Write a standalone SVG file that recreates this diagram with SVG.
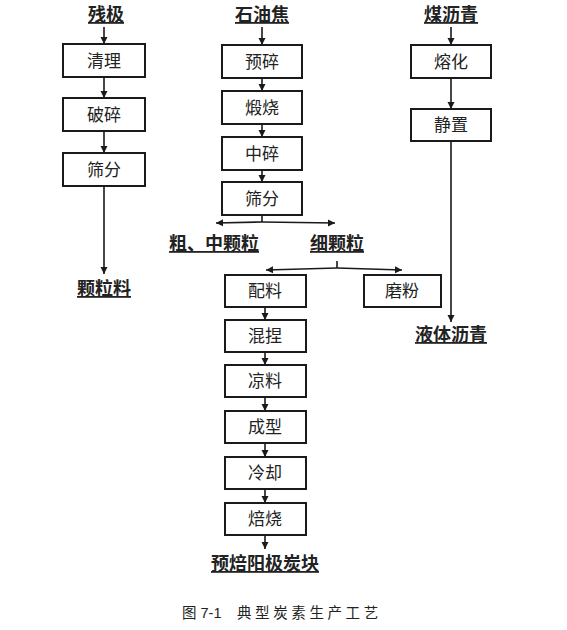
<svg xmlns="http://www.w3.org/2000/svg" width="567" height="630" viewBox="0 0 567 630">
<style>
.box{fill:#fff;stroke:#1a1a1a;stroke-width:2}
.bt{font-family:"Noto Sans CJK SC","Noto Sans",sans-serif;font-size:17px;fill:#222;text-anchor:middle}
.lb{font-family:"Noto Sans CJK SC","Noto Sans",sans-serif;font-size:18px;font-weight:bold;fill:#222;text-anchor:middle;text-decoration:underline}
.cn{stroke:#1a1a1a;stroke-width:1.6;fill:none}
.cap{font-family:"Liberation Sans","Noto Sans CJK SC",sans-serif;font-size:14.5px;fill:#222}
</style>
<defs>
<marker id="ar" markerUnits="userSpaceOnUse" markerWidth="8" markerHeight="8" refX="7" refY="4" orient="auto">
<path d="M0,0.5 L7,4 L0,7.5 z" fill="#1a1a1a"/>
</marker>
</defs>
<rect width="567" height="630" fill="#fff"/>

<g id="connectors">
<line class="cn" x1="104" y1="27" x2="104" y2="44" marker-end="url(#ar)"/>
<line class="cn" x1="104" y1="77" x2="104" y2="98" marker-end="url(#ar)"/>
<line class="cn" x1="104" y1="131" x2="104" y2="153" marker-end="url(#ar)"/>
<line class="cn" x1="104" y1="186" x2="104" y2="274" marker-end="url(#ar)"/>

<line class="cn" x1="262" y1="27" x2="262" y2="45" marker-end="url(#ar)"/>
<line class="cn" x1="262" y1="78" x2="262" y2="91" marker-end="url(#ar)"/>
<line class="cn" x1="262" y1="124" x2="262" y2="137" marker-end="url(#ar)"/>
<line class="cn" x1="262" y1="170" x2="262" y2="182" marker-end="url(#ar)"/>
<line class="cn" x1="262" y1="215" x2="262" y2="222"/>
<line class="cn" x1="262" y1="222" x2="216" y2="223" marker-end="url(#ar)"/>
<line class="cn" x1="262" y1="222" x2="335" y2="223" marker-end="url(#ar)"/>

<line class="cn" x1="337" y1="261" x2="337" y2="268"/>
<line class="cn" x1="337" y1="268" x2="266" y2="270" marker-end="url(#ar)"/>
<line class="cn" x1="337" y1="268" x2="402" y2="270" marker-end="url(#ar)"/>

<line class="cn" x1="265" y1="307" x2="265" y2="320" marker-end="url(#ar)"/>
<line class="cn" x1="265" y1="352" x2="265" y2="365" marker-end="url(#ar)"/>
<line class="cn" x1="265" y1="397" x2="265" y2="411" marker-end="url(#ar)"/>
<line class="cn" x1="265" y1="443" x2="265" y2="457" marker-end="url(#ar)"/>
<line class="cn" x1="265" y1="489" x2="265" y2="503" marker-end="url(#ar)"/>
<line class="cn" x1="265" y1="535" x2="265" y2="549" marker-end="url(#ar)"/>

<line class="cn" x1="451" y1="27" x2="451" y2="45" marker-end="url(#ar)"/>
<line class="cn" x1="451" y1="78" x2="451" y2="109" marker-end="url(#ar)"/>
<line class="cn" x1="451" y1="141" x2="451" y2="322" marker-end="url(#ar)"/>
</g>

<g id="t-canji"><text class="lb" x="106" y="21">残极</text></g>
<g id="t-shiyoujiao"><text class="lb" x="262" y="21">石油焦</text></g>
<g id="t-meiliqing"><text class="lb" x="451" y="21">煤沥青</text></g>

<g id="n-qingli"><rect class="box" x="63" y="44" width="82" height="33"/><text class="bt" x="104" y="66.5">清理</text></g>
<g id="n-posui"><rect class="box" x="63" y="98" width="82" height="33"/><text class="bt" x="104" y="120.5">破碎</text></g>
<g id="n-shaifen1"><rect class="box" x="63" y="153" width="82" height="33"/><text class="bt" x="104" y="175.5">筛分</text></g>
<g id="t-keliliao"><text class="lb" x="104" y="295">颗粒料</text></g>

<g id="n-yusui"><rect class="box" x="222" y="45" width="80" height="33"/><text class="bt" x="262" y="67.5">预碎</text></g>
<g id="n-duanshao"><rect class="box" x="222" y="91" width="80" height="33"/><text class="bt" x="262" y="113.5">煅烧</text></g>
<g id="n-zhongsui"><rect class="box" x="222" y="137" width="80" height="33"/><text class="bt" x="262" y="159.5">中碎</text></g>
<g id="n-shaifen2"><rect class="box" x="222" y="182" width="80" height="33"/><text class="bt" x="262" y="204.5">筛分</text></g>

<g id="t-cuzhong"><text class="lb" x="214" y="250">粗、中颗粒</text></g>
<g id="t-xikeli"><text class="lb" x="337" y="250">细颗粒</text></g>

<g id="n-peiliao"><rect class="box" x="225" y="275" width="81" height="32"/><text class="bt" x="265" y="297">配料</text></g>
<g id="n-mofen"><rect class="box" x="364" y="275" width="77" height="32"/><text class="bt" x="402" y="297">磨粉</text></g>
<g id="n-hunnie"><rect class="box" x="225" y="320" width="81" height="32"/><text class="bt" x="265" y="342">混捏</text></g>
<g id="n-liangliao"><rect class="box" x="225" y="365" width="81" height="32"/><text class="bt" x="265" y="387">凉料</text></g>
<g id="n-chengxing"><rect class="box" x="225" y="411" width="81" height="32"/><text class="bt" x="265" y="433">成型</text></g>
<g id="n-lengque"><rect class="box" x="225" y="457" width="81" height="32"/><text class="bt" x="265" y="479">冷却</text></g>
<g id="n-beishao"><rect class="box" x="225" y="503" width="81" height="32"/><text class="bt" x="265" y="525">焙烧</text></g>
<g id="t-yubei"><text class="lb" x="265" y="570">预焙阳极炭块</text></g>

<g id="n-ronghua"><rect class="box" x="411" y="45" width="80" height="33"/><text class="bt" x="451" y="67.5">熔化</text></g>
<g id="n-jingzhi"><rect class="box" x="411" y="109" width="80" height="32"/><text class="bt" x="451" y="131">静置</text></g>
<g id="t-yeti"><text class="lb" x="451" y="341">液体沥青</text></g>

<g id="caption"><text class="cap" x="182" y="618">图 7-1</text><text class="cap" x="237" y="618" letter-spacing="3.6">典型炭素生产工艺</text></g>
</svg>
